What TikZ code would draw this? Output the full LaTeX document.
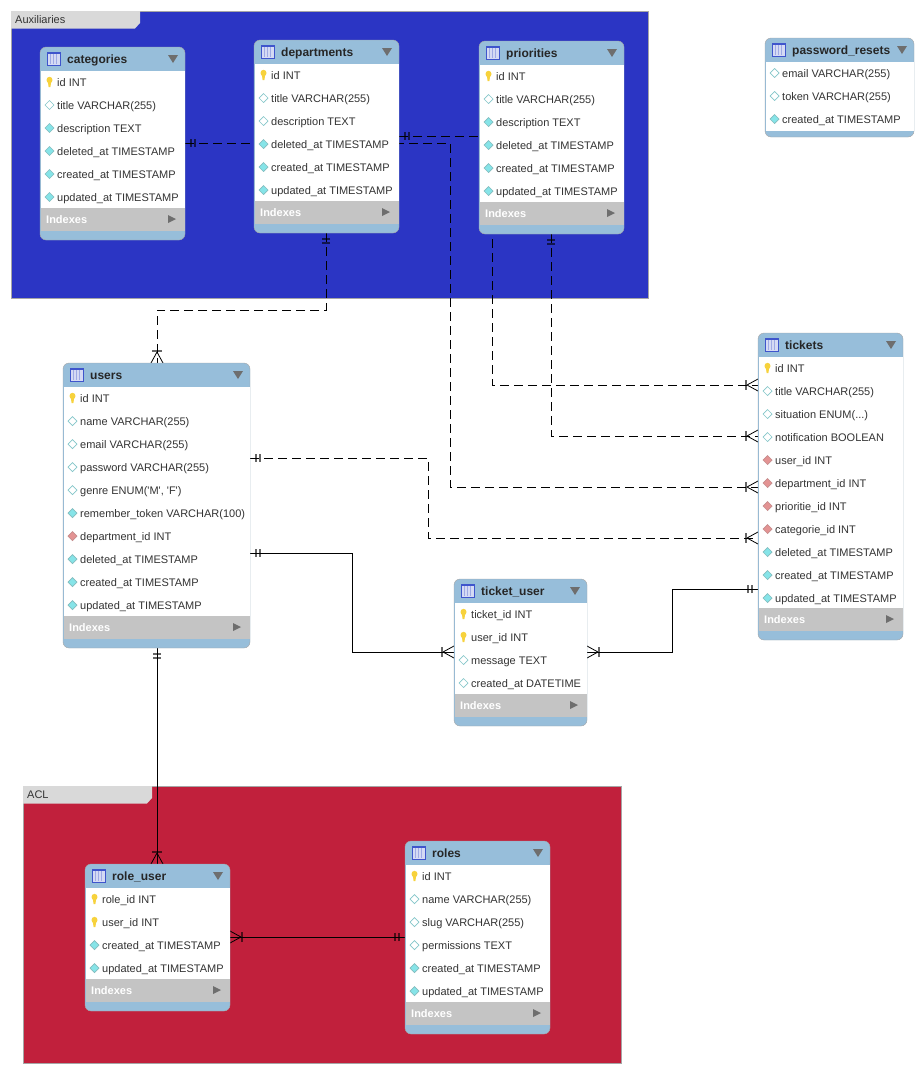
\documentclass[tikz,border=0pt]{standalone}
\usepackage{fontspec}
\setmainfont{Liberation Sans}
\usepackage{tikz}
\usetikzlibrary{calc,decorations.markings}
\definecolor{erdhead}{HTML}{97BEDA}
\definecolor{erdband}{HTML}{C4C4C4}
\definecolor{erdedge}{HTML}{A6A6A6}
\definecolor{erdtab}{HTML}{D9D9D9}
\definecolor{erdtext}{HTML}{333333}
\definecolor{erdblue}{HTML}{2B35C4}
\definecolor{erdred}{HTML}{C1203C}
\definecolor{erdkey}{HTML}{F7D23C}
\definecolor{erdcyan}{HTML}{86E4E8}
\definecolor{erdfk}{HTML}{E39393}
\definecolor{erdmark}{HTML}{6E6E6E}
\definecolor{erdicon}{HTML}{3F55CC}
\pgfdeclarelayer{groups}
\pgfdeclarelayer{edges}
\pgfsetlayers{groups,edges,main}
\newcommand{\erddots}{.{}.{}.}
\tikzset{
  erdtable/.style={draw=erdedge,fill=erdhead,rounded corners=6pt,anchor=north west,
    inner sep=0pt,outer sep=0pt},
  erdgroup/.style={draw=gray!70,anchor=north west,inner sep=0pt,outer sep=0pt},
  erdtitle/.style={anchor=west,inner sep=0pt,font=\fontsize{12}{14}\selectfont\bfseries,
    text=black!85,text height=9pt,text depth=3pt},
  erdrow/.style={anchor=west,inner sep=0pt,font=\fontsize{11}{13}\selectfont,
    text=erdtext,text height=8pt,text depth=2pt},
  erdindex/.style={anchor=west,inner sep=0pt,font=\fontsize{11}{13}\selectfont\bfseries,
    text=white,text height=8pt,text depth=2pt},
  erdlabel/.style={anchor=west,inner sep=0pt,font=\fontsize{11}{13}\selectfont,
    text=erdtext,text height=8pt,text depth=2pt},
  rel/.style={line width=.85pt,black},
  relopt/.style={rel,dash pattern=on 9pt off 5pt},
  one/.style={postaction={decorate,decoration={markings,
    mark=at position 6pt with {\draw[solid,line width=1.5pt,black,opacity=.6] (0,-4) -- (0,4) (4,-4) -- (4,4);}}}},
  many/.style={postaction={decorate,decoration={markings,
    mark=at position -12pt with {\draw[solid,line width=1.5pt,black,opacity=.6] (0,-5) -- (0,5);
      \draw[solid,line width=.8pt,black] (1,0) -- (12,6) (1,0) -- (12,-6);}}}},
  rowdiamond/.style={line width=.7pt},
  pics/rowkey/.style={code={
    \fill[erdkey] (0,-2) ellipse (3 and 3.2);
    \fill[erdkey] (-1.6,0) -- (1.6,0) -- (.9,5) -- (-.9,5) -- cycle;}},
  pics/rowopen/.style={code={
    \filldraw[rowdiamond,draw=erdcyan!70!gray,fill=white] (-4.5,0) -- (0,-4.5) -- (4.5,0) -- (0,4.5) -- cycle;}},
  pics/rowfill/.style={code={
    \filldraw[rowdiamond,draw=erdcyan!60!gray,fill=erdcyan] (-4.5,0) -- (0,-4.5) -- (4.5,0) -- (0,4.5) -- cycle;}},
  pics/rowfk/.style={code={
    \filldraw[rowdiamond,draw=erdfk!70!gray,fill=erdfk] (-4.5,0) -- (0,-4.5) -- (4.5,0) -- (0,4.5) -- cycle;}},
  pics/tableicon/.style={code={
    \filldraw[draw=erdicon,fill=erdicon!22!white,line width=.8pt] (0,0) rectangle (13,13);
    \draw[erdicon!50!white,line width=.5pt] (3.5,2) -- (3.5,12) (6.5,2) -- (6.5,12) (9.5,2) -- (9.5,12);
    \draw[erdicon,line width=1.2pt] (0,1.2) -- (13,1.2);}}
}
% #1 name, #2 x, #3 y, #4 width, #5 height, #6 title, #7 rows
\newcommand{\erdtable}[7]{
  \node[erdtable,minimum width=#4pt,minimum height=#5pt] (#1) at (#2,#3) {};
  \pic at (#2+7,#3+5) {tableicon};
  \node[erdtitle] at (#2+27,#3+13) {#6};
  \fill[erdmark] (#2+#4-17,#3+8) -- (#2+#4-7,#3+8) -- (#2+#4-12,#3+16) -- cycle;
  \foreach \kind/\txt [count=\i] in {#7} {
    \fill[white] (#2+.5,#3+1+23*\i) rectangle (#2+#4-.5,#3+24+23*\i);
    \pic at (#2+9.5,#3+12+23*\i) {\kind};
    \node[erdrow] at (#2+17,#3+13+23*\i) {\txt};
  }
}
\newcommand{\erdindexes}[1]{
  \fill[erdband] ($(#1.south west)+(.5,-32)$) rectangle ($(#1.south east)+(-.5,-9)$);
  \node[erdindex] at ($(#1.south west)+(6,-20)$) {Indexes};
  \fill[erdmark] ($(#1.south east)+(-17,-25)$) -- ($(#1.south east)+(-9,-21)$) -- ($(#1.south east)+(-17,-17)$) -- cycle;
}
% #1 name, #2 x, #3 y, #4 width, #5 height, #6 colour, #7 label
\newcommand{\erdgroup}[7]{
  \begin{pgfonlayer}{groups}
    \node[erdgroup,fill=#6,minimum width=#4pt,minimum height=#5pt] (#1) at (#2,#3) {};
    \fill[erdtab] (#2,#3) -- (#2+129,#3) -- (#2+129,#3+12) -- (#2+124,#3+17.5) -- (#2,#3+17.5) -- cycle;
    \node[erdlabel] (#1-label) at (#2+4,#3+9) {#7};
  \end{pgfonlayer}
}
\begin{document}
\begin{tikzpicture}[x=1pt,y=-1pt]
  \useasboundingbox (0,0) rectangle (923,1074);
  \erdgroup{auxiliaries}{11}{11}{637}{287}{erdblue}{Auxiliaries}
  \erdgroup{acl}{23}{786}{598}{277}{erdred}{ACL}

  \erdtable{categories}{40}{47}{145}{193}{categories}{rowkey/id INT,rowopen/title VARCHAR(255),rowfill/description TEXT,
    rowfill/deleted\_at TIMESTAMP,rowfill/created\_at TIMESTAMP,rowfill/updated\_at TIMESTAMP}
  \erdindexes{categories}
  \erdtable{departments}{254}{40}{145}{193}{departments}{rowkey/id INT,rowopen/title VARCHAR(255),rowopen/description TEXT,
    rowfill/deleted\_at TIMESTAMP,rowfill/created\_at TIMESTAMP,rowfill/updated\_at TIMESTAMP}
  \erdindexes{departments}
  \erdtable{priorities}{479}{41}{145}{193}{priorities}{rowkey/id INT,rowopen/title VARCHAR(255),rowfill/description TEXT,
    rowfill/deleted\_at TIMESTAMP,rowfill/created\_at TIMESTAMP,rowfill/updated\_at TIMESTAMP}
  \erdindexes{priorities}
  \erdtable{passwordresets}{765}{38}{149}{99}{password\_resets}{rowopen/email VARCHAR(255),rowopen/token VARCHAR(255),
    rowfill/created\_at TIMESTAMP}
  \erdtable{users}{63}{363}{187}{285}{users}{rowkey/id INT,rowopen/name VARCHAR(255),rowopen/email VARCHAR(255),
    rowopen/password VARCHAR(255),rowopen/{genre ENUM(\textquotesingle M\textquotesingle, \textquotesingle F\textquotesingle)},
    rowfill/remember\_token VARCHAR(100),rowfk/department\_id INT,
    rowfill/deleted\_at TIMESTAMP,rowfill/created\_at TIMESTAMP,rowfill/updated\_at TIMESTAMP}
  \erdindexes{users}
  \erdtable{tickets}{758}{333}{145}{307}{tickets}{rowkey/id INT,rowopen/title VARCHAR(255),rowopen/situation ENUM(\erddots),
    rowopen/notification BOOLEAN,rowfk/user\_id INT,rowfk/department\_id INT,rowfk/prioritie\_id INT,rowfk/categorie\_id INT,
    rowfill/deleted\_at TIMESTAMP,rowfill/created\_at TIMESTAMP,rowfill/updated\_at TIMESTAMP}
  \erdindexes{tickets}
  \erdtable{ticketuser}{454}{579}{133}{147}{ticket\_user}{rowkey/ticket\_id INT,rowkey/user\_id INT,rowopen/message TEXT,
    rowopen/created\_at DATETIME}
  \erdindexes{ticketuser}
  \erdtable{roleuser}{85}{864}{145}{147}{role\_user}{rowkey/role\_id INT,rowkey/user\_id INT,
    rowfill/created\_at TIMESTAMP,rowfill/updated\_at TIMESTAMP}
  \erdindexes{roleuser}
  \erdtable{roles}{405}{841}{145}{193}{roles}{rowkey/id INT,rowopen/name VARCHAR(255),rowopen/slug VARCHAR(255),
    rowopen/permissions TEXT,rowfill/created\_at TIMESTAMP,rowfill/updated\_at TIMESTAMP}
  \erdindexes{roles}

  % connectors run behind the tables
  \begin{pgfonlayer}{edges}
    \draw[relopt,one,many] (categories.east |- 0,143) -| (450,487) -- (tickets.west |- 0,487);
    \draw[relopt,one,many] (departments.east |- 0,136) -| (492,385) -- (tickets.west |- 0,385);
    \draw[relopt,one,many] (priorities.south -| 551,0) |- (tickets.west |- 0,436);
    \draw[relopt,one,many] (departments.south -| 326,0) |- (157,310) -- (users.north -| 157,0);
    \draw[relopt,one,many] (users.east |- 0,458) -| (428,538) -- (tickets.west |- 0,538);
    \draw[rel,one,many] (users.east |- 0,553) -| (352,652) -- (ticketuser.west |- 0,652);
    \draw[rel,one,many] (tickets.west |- 0,589) -| (672,652) -- (ticketuser.east |- 0,652);
    \draw[rel,one,many] (users.south -| 157,0) -- (roleuser.north -| 157,0);
    \draw[rel,one,many] (roles.west |- 0,937) -- (roleuser.east |- 0,937);
  \end{pgfonlayer}
\end{tikzpicture}
\end{document}
